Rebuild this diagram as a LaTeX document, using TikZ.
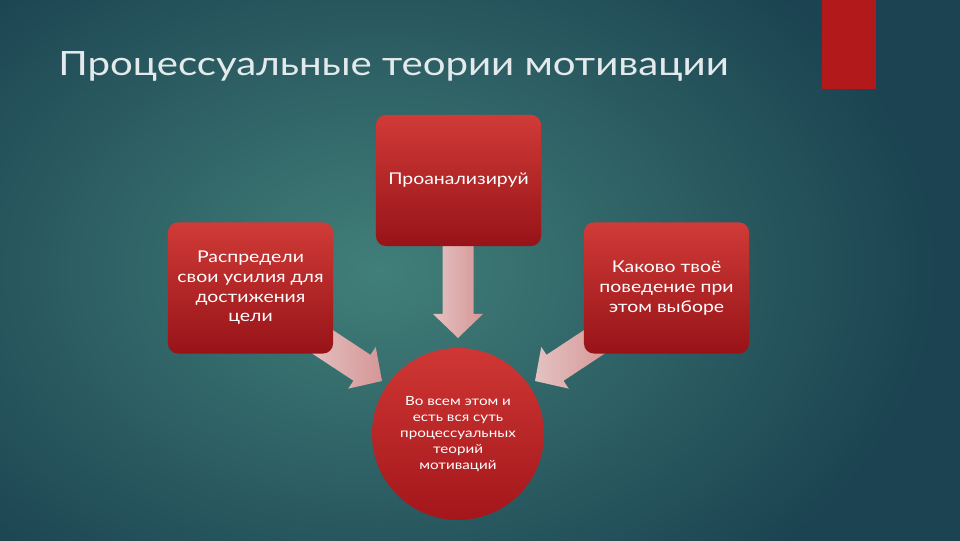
\documentclass[tikz,border=0pt]{standalone}
\usepackage{fontspec}
\setmainfont{Lato}[FakeStretch=1.2]
\usetikzlibrary{shapes.geometric}
\definecolor{bgdark}{HTML}{1B4351}
\definecolor{bglight}{HTML}{417F79}
\definecolor{barred}{HTML}{B2191A}
\definecolor{boxtop}{HTML}{D03B37}
\definecolor{boxbot}{HTML}{971318}
\definecolor{circtop}{HTML}{CF3734}
\definecolor{circbot}{HTML}{A3161B}
\definecolor{arrlight}{HTML}{E4C2C2}
\definecolor{arrdark}{HTML}{D69696}
\definecolor{titlecol}{HTML}{E4EAEC}
\tikzset{
  box/.style={rectangle, rounded corners=7pt, minimum width=4.125cm, minimum height=3.275cm,
    top color=boxtop, bottom color=boxbot, draw=none, text=white, align=center,
    font=\fontsize{11.5}{14}\selectfont, inner sep=0pt},
  goal/.style={circle, minimum size=4.3cm, top color=circtop, bottom color=circbot,
    draw=none, text=white, align=center, font=\fontsize{9}{11.3}\selectfont, inner sep=0pt},
  arrowfill/.style={left color=arrlight, right color=arrdark, draw=none},
  titletext/.style={text=titlecol, font=\fontsize{23.8}{28}\selectfont, inner sep=0pt}
}
\newcommand\blockarrow[3]{%
  \begin{scope}[shift={(#1)},rotate=#2]
    \shade[arrowfill] (0,0) -- (-24,25) -- (-24,15.5) -- (-#3,15.5) -- (-#3,-15.5) -- (-24,-15.5) -- (-24,-25) -- cycle;
  \end{scope}}
\begin{document}
\begin{tikzpicture}[x=0.025cm,y=0.025cm]
  \useasboundingbox (0,0) rectangle (960,540);
  % background
  \begin{scope}
    \clip (-5,-5) rectangle (965,545);
    \fill[bgdark] (-5,-5) rectangle (965,545);
    \shade[inner color=bglight, outer color=bgdark] (380,270) ellipse [x radius=560, y radius=400];
  \end{scope}
  % red bar
  \fill[barred] (822,451) rectangle (876,545);
  % title
  \node[titletext, anchor=base west] (title) at (58,464) {Процессуальные теории мотивации};
  % named anchor points for the block arrows
  \coordinate (tipdown) at (458,202);
  \coordinate (tipleft) at (382,159);
  \coordinate (tipright) at (535,159);
  % arrows (drawn behind boxes)
  \blockarrow{tipdown}{-90}{92}
  \blockarrow{tipleft}{-33.4}{80}
  \blockarrow{tipright}{213.4}{80}
  % boxes
  \node[box] (analyse) at (458.5,359.5) {Проанализируй};
  \node[box] (distribute) at (250.5,252) {Распредели\\свои усилия для\\достижения\\цели};
  \node[box] (behaviour) at (666.5,252) {Каково твоё\\поведение при\\этом выборе};
  \node[goal] (essence) at (458,106) {Во всем этом и\\есть вся суть\\процессуальных\\теорий\\мотиваций};
\end{tikzpicture}
\end{document}
